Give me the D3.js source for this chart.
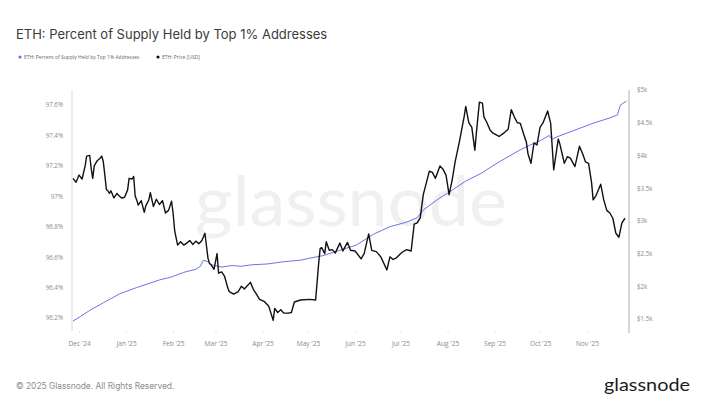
<!DOCTYPE html>
<html>
<head>
<meta charset="utf-8">
<script src="https://cdn.jsdelivr.net/npm/d3@7"></script>
<style>
  html, body { margin: 0; padding: 0; background: #fff; }
  svg { display: block; font-family: "Open Sans", "Noto Sans", sans-serif; }
</style>
</head>
<body>
<script>
// ETH price (USD)
const priceDates = [
  "2024-11-27","2024-11-29","2024-12-01","2024-12-03","2024-12-05","2024-12-06","2024-12-08","2024-12-09",
  "2024-12-10","2024-12-11","2024-12-13","2024-12-15","2024-12-16","2024-12-17","2024-12-18","2024-12-19",
  "2024-12-20","2024-12-21","2024-12-22","2024-12-24","2024-12-26","2024-12-27","2024-12-29","2024-12-31",
  "2025-01-02","2025-01-03","2025-01-05","2025-01-06","2025-01-07","2025-01-08","2025-01-09","2025-01-11",
  "2025-01-13","2025-01-14","2025-01-16","2025-01-17","2025-01-19","2025-01-21","2025-01-23","2025-01-25",
  "2025-01-27","2025-01-29","2025-01-31","2025-02-01","2025-02-02","2025-02-03","2025-02-04","2025-02-06",
  "2025-02-08","2025-02-10","2025-02-12","2025-02-14","2025-02-16","2025-02-18","2025-02-20","2025-02-22",
  "2025-02-24","2025-02-25","2025-02-26","2025-02-28","2025-03-02","2025-03-03","2025-03-05","2025-03-07",
  "2025-03-09","2025-03-10","2025-03-13","2025-03-16","2025-03-18","2025-03-20","2025-03-24","2025-03-26",
  "2025-03-28","2025-03-30","2025-04-02","2025-04-05","2025-04-08","2025-04-09","2025-04-11","2025-04-13",
  "2025-04-15","2025-04-18","2025-04-20","2025-04-22","2025-04-26","2025-05-02","2025-05-06","2025-05-08",
  "2025-05-09","2025-05-10","2025-05-12","2025-05-13","2025-05-15","2025-05-17","2025-05-19","2025-05-22",
  "2025-05-24","2025-05-27","2025-05-29","2025-06-01","2025-06-05","2025-06-07","2025-06-10","2025-06-12",
  "2025-06-15","2025-06-18","2025-06-22","2025-06-24","2025-06-26","2025-06-28","2025-07-02","2025-07-05",
  "2025-07-08","2025-07-10","2025-07-12","2025-07-14","2025-07-16","2025-07-18","2025-07-20","2025-07-22",
  "2025-07-24","2025-07-27","2025-07-29","2025-07-31","2025-08-02","2025-08-04","2025-08-06","2025-08-09",
  "2025-08-12","2025-08-13","2025-08-15","2025-08-17","2025-08-19","2025-08-20","2025-08-22","2025-08-24",
  "2025-08-25","2025-08-27","2025-08-29","2025-08-31","2025-09-04","2025-09-07","2025-09-10","2025-09-12",
  "2025-09-14","2025-09-16","2025-09-18","2025-09-20","2025-09-22","2025-09-23","2025-09-25","2025-09-27",
  "2025-09-29","2025-10-01","2025-10-03","2025-10-06","2025-10-08","2025-10-10","2025-10-13","2025-10-14",
  "2025-10-17","2025-10-19","2025-10-21","2025-10-24","2025-10-27","2025-10-29","2025-10-31","2025-11-02",
  "2025-11-04","2025-11-05","2025-11-07","2025-11-10","2025-11-12","2025-11-14","2025-11-16","2025-11-18",
  "2025-11-20","2025-11-22","2025-11-24","2025-11-26"
];
const priceValues = [
  3650,3590,3700,3640,3840,3990,4000,3800,
  3650,3840,3920,3960,3990,3900,3700,3480,
  3460,3420,3460,3350,3420,3390,3350,3360,
  3470,3650,3640,3680,3380,3320,3240,3310,
  3130,3230,3320,3430,3220,3330,3250,3310,
  3120,3160,3300,3120,2860,2740,2630,2680,
  2630,2660,2700,2640,2690,2650,2700,2810,
  2430,2350,2330,2260,2500,2200,2220,2150,
  1980,1920,1880,1920,2000,1960,2060,1950,
  1880,1800,1770,1700,1480,1660,1600,1640,
  1590,1590,1600,1760,1790,1800,1790,2350,
  2580,2590,2500,2680,2550,2560,2510,2660,
  2540,2670,2550,2540,2420,2500,2800,2550,
  2530,2450,2250,2450,2410,2430,2520,2560,
  2540,2950,2970,3050,3400,3580,3760,3740,
  3650,3840,3790,3700,3400,3620,3900,4230,
  4600,4750,4500,4430,4080,4340,4815,4800,
  4590,4500,4390,4340,4290,4340,4400,4700,
  4590,4500,4490,4340,4200,4030,3880,4190,
  4160,4430,4500,4680,4490,3780,4250,4180,
  3880,3980,3960,3830,4140,4030,3900,3880,
  3580,3320,3390,3560,3320,3160,3120,3040,
  2810,2750,2970,3040
];

// percent of supply held by top 1% addresses
const supplyDates = [
  "2024-11-27","2024-12-02","2024-12-08","2024-12-17","2024-12-28","2025-01-08","2025-01-17","2025-01-23",
  "2025-01-31","2025-02-08","2025-02-16","2025-02-19","2025-02-21","2025-02-24","2025-02-26","2025-03-05",
  "2025-03-12","2025-03-18","2025-03-25","2025-04-04","2025-04-15","2025-04-26","2025-05-03","2025-05-11",
  "2025-05-22","2025-06-02","2025-06-13","2025-06-24","2025-07-05","2025-07-12","2025-07-16","2025-07-27",
  "2025-08-01","2025-08-13","2025-08-23","2025-09-03","2025-09-17","2025-09-24","2025-10-02","2025-10-07",
  "2025-10-09","2025-10-12","2025-10-24","2025-11-05","2025-11-16","2025-11-21","2025-11-23","2025-11-27"
];
const supplyValues = [
  96.18,96.21,96.25,96.30,96.36,96.40,96.43,96.45,
  96.47,96.50,96.52,96.54,96.58,96.57,96.55,96.535,
  96.545,96.54,96.55,96.555,96.57,96.58,96.595,96.61,
  96.645,96.68,96.75,96.80,96.83,96.86,96.91,96.99,
  97.02,97.10,97.15,97.22,97.30,97.335,97.37,97.40,
  97.375,97.39,97.435,97.48,97.515,97.535,97.60,97.625
];

const pctTicks = [96.2, 96.4, 96.6, 96.8, 97, 97.2, 97.4, 97.6];
const priceTicks = [1500, 2000, 2500, 3000, 3500, 4000, 4500, 5000];

const title = "ETH: Percent of Supply Held by Top 1% Addresses";
const seriesNames = ["ETH: Percent of Supply Held by Top 1% Addresses", "ETH: Price [USD]"];
const seriesColors = ["#6b73e6", "#111111"];

const width = 719, height = 406;
const plot = { left: 72, right: 629, top: 90, bottom: 331 };

const parse = d3.utcParse("%Y-%m-%d");
const price = priceDates.map((d, i) => ({ date: parse(d), value: priceValues[i] }));
const supply = supplyDates.map((d, i) => ({ date: parse(d), value: supplyValues[i] }));

const svg = d3.select("body").append("svg")
  .attr("width", width)
  .attr("height", height);

svg.append("rect").attr("width", width).attr("height", height).attr("fill", "#fff");

// scales
const x = d3.scaleUtc()
  .domain([parse("2024-11-27"), parse("2025-11-28")])
  .range([73, 628]);
const yPct = d3.scaleLinear().domain([96.2, 97.6]).range([318, 105]);
const yPrice = d3.scaleLinear().domain([1500, 5000]).range([319, 90]);

// title + legend
svg.append("text")
  .attr("x", 16).attr("y", 38.5)
  .attr("fill", "#3a3a3a")
  .style("font-family", "Inter, 'Open Sans', sans-serif")
  .style("font-size", "13px")
  .text(title);

const legend = svg.append("g").style("font-size", "5px").attr("fill", "#666");
const legendX = [20, 158];
seriesNames.forEach((name, i) => {
  legend.append("circle").attr("cx", legendX[i]).attr("cy", 57).attr("r", 1.6).attr("fill", seriesColors[i]);
  legend.append("text").attr("x", legendX[i] + 4).attr("y", 58.8).text(name);
});

// watermark
svg.append("text")
  .attr("x", 351).attr("y", 226)
  .attr("text-anchor", "middle")
  .attr("fill", "#f0f0f0")
  .attr("textLength", 312)
  .attr("lengthAdjust", "spacingAndGlyphs")
  .style("font-family", "Lato, 'Open Sans', sans-serif")
  .style("font-size", "70px")
  .text("glassnode");

// axis lines
svg.append("line").attr("x1", plot.left).attr("x2", plot.left)
  .attr("y1", plot.top).attr("y2", plot.bottom).attr("stroke", "#d6d8e4");
svg.append("line").attr("x1", plot.right).attr("x2", plot.right)
  .attr("y1", plot.top).attr("y2", plot.bottom + 2).attr("stroke", "#b0b0b0");

// left axis
const leftAxis = svg.append("g")
  .attr("transform", `translate(${plot.left},0)`)
  .call(d3.axisLeft(yPct).tickValues(pctTicks).tickSize(0).tickPadding(9)
    .tickFormat(d => `${+d.toFixed(1)}%`));
leftAxis.select(".domain").remove();

// right axis
const rightAxis = svg.append("g")
  .attr("transform", `translate(${plot.right},0)`)
  .call(d3.axisRight(yPrice).tickValues(priceTicks).tickSize(0).tickPadding(8)
    .tickFormat(d => `$${d / 1000}k`));
rightAxis.select(".domain").remove();

// bottom axis
const bottomAxis = svg.append("g")
  .attr("transform", `translate(0,${plot.bottom})`)
  .call(d3.axisBottom(x).ticks(d3.utcMonth.every(1)).tickSize(2).tickPadding(8)
    .tickFormat(d3.utcFormat("%b '%y")));
bottomAxis.select(".domain").remove();
bottomAxis.selectAll(".tick line").attr("stroke", "#e4e4e4");

svg.selectAll(".tick text")
  .attr("fill", "#8a8a8a")
  .style("font-family", "'Open Sans', sans-serif")
  .style("font-size", "6.2px");
bottomAxis.selectAll(".tick text").style("font-size", "6.6px");

// lines
const supplyLine = d3.line()
  .x(d => x(d.date))
  .y(d => yPct(d.value));
const priceLine = d3.line()
  .x(d => x(d.date))
  .y(d => yPrice(d.value));

svg.append("path")
  .datum(supply)
  .attr("fill", "none")
  .attr("stroke", seriesColors[0])
  .attr("stroke-width", 1)
  .attr("d", supplyLine);

svg.append("path")
  .datum(price)
  .attr("fill", "none")
  .attr("stroke", seriesColors[1])
  .attr("stroke-width", 1.4)
  .attr("stroke-linejoin", "round")
  .attr("d", priceLine);

// footer
svg.append("text")
  .attr("x", 16).attr("y", 389)
  .attr("fill", "#8c8c8c")
  .style("font-family", "Inter, 'Open Sans', sans-serif")
  .style("font-size", "8.4px")
  .text("© 2025 Glassnode. All Rights Reserved.");

svg.append("text")
  .attr("x", 604).attr("y", 391)
  .attr("fill", "#1c1c1c")
  .attr("textLength", 86)
  .attr("lengthAdjust", "spacingAndGlyphs")
  .style("font-family", "Lato, 'Open Sans', sans-serif")
  .style("font-size", "18px")
  .text("glassnode");
</script>
</body>
</html>
